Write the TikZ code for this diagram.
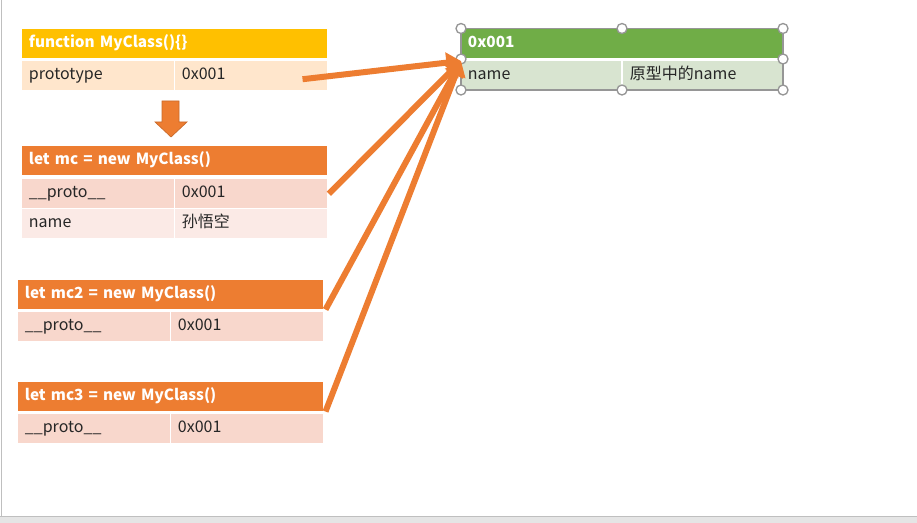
\documentclass[tikz,border=0pt]{standalone}
\usepackage{fontspec}
\setmainfont{Noto Sans CJK SC}
\usetikzlibrary{arrows.meta, positioning, calc}
\definecolor{headgold}{RGB}{255,192,0}
\definecolor{headorange}{RGB}{237,125,49}
\definecolor{headgreen}{RGB}{112,173,71}
\definecolor{rowpeach}{RGB}{255,230,204}
\definecolor{rowsalmon}{RGB}{248,215,204}
\definecolor{rowblush}{RGB}{251,234,230}
\definecolor{rowsage}{RGB}{216,228,208}
\definecolor{handlegray}{RGB}{150,150,150}

\begin{document}
\begin{tikzpicture}[
  x=0.75pt, y=-0.75pt,
  headcell/.style={anchor=north west, inner xsep=5pt, inner ysep=0pt, minimum height=21.75pt, text height=8.6pt, text depth=2.6pt, text width=#1, align=left, text=white, font=\fontsize{11.5}{13}\selectfont\bfseries},
  rowcell/.style={anchor=north west, inner xsep=5pt, inner ysep=0pt, minimum height=21.75pt, text height=8.6pt, text depth=2.6pt, text width=#1, align=left, text=black!85, font=\fontsize{12}{14}\selectfont},
  handle/.style={circle, draw=handlegray, fill=white, line width=1pt, inner sep=0pt, minimum size=7.5pt},
  pointer/.style={draw=headorange, line width=4.5pt, -{Triangle[length=11pt, width=15pt]}}
]
  \useasboundingbox (0,0) rectangle (917,523);
  \fill[white] (0,0) rectangle (917,523);
  \fill[black!10] (0,516) rectangle (917,523);
  \draw[black!25] (0,516) -- (917,516);
  \draw[black!25] (1,0) -- (1,516);

  % constructor
  \node[headcell=218.75pt, fill=headgold] (fnhead) at (22,29) {function MyClass()\{\}};
  \node[rowcell=104pt, fill=rowpeach] (fnkey) at (22,61) {prototype};
  \node[rowcell=104pt, fill=rowpeach] (fnaddr) at (175,61) {0x001};

  \filldraw[fill=headorange, draw=headorange!85!black, line width=0.5pt]
    (162,101) -- (179,101) -- (179,122) -- (187,122) -- (171,137) -- (155,122) -- (162,122) -- cycle;

  % instance mc
  \node[headcell=218.75pt, fill=headorange] (mchead) at (22,146) {let mc = new MyClass()};
  \node[rowcell=104pt, fill=rowsalmon] (mckey) at (22,179) {\_\_proto\_\_};
  \node[rowcell=104pt, fill=rowsalmon] (mcaddr) at (175,179) {0x001};
  \node[rowcell=104pt, fill=rowblush] (mcname) at (22,209) {name};
  \node[rowcell=104pt, fill=rowblush] (mcval) at (175,209) {孙悟空};

  % instance mc2
  \node[headcell=218.75pt, fill=headorange] (mctwohead) at (18,280) {let mc2 = new MyClass()};
  \node[rowcell=104pt, fill=rowsalmon] (mctwokey) at (18,312) {\_\_proto\_\_};
  \node[rowcell=104pt, fill=rowsalmon] (mctwoaddr) at (171,312) {0x001};

  % instance mc3
  \node[headcell=218.75pt, fill=headorange] (mcthreehead) at (18,382) {let mc3 = new MyClass()};
  \node[rowcell=104pt, fill=rowsalmon] (mcthreekey) at (18,414) {\_\_proto\_\_};
  \node[rowcell=104pt, fill=rowsalmon] (mcthreeaddr) at (171,414) {0x001};

  % prototype object
  \node[headcell=231.5pt, fill=headgreen] (ghead) at (461,29) {0x001};
  \node[rowcell=110pt, fill=rowsage] (gname) at (461,61) {name};
  \node[rowcell=110pt, fill=rowsage] (gval) at (623,61) {原型中的name};

  \draw[handlegray, line width=0.8pt] (461,28.5) rectangle (783,90);
  \foreach \hx/\hy in {461/28.5, 622/28.5, 783/28.5, 461/59, 783/59, 461/90, 622/90, 783/90}
    \node[handle] at (\hx,\hy) {};

  \draw[pointer] ([xshift=-18.75pt, yshift=-2.6pt]fnaddr.east) -- (gname.north west);
  \draw[pointer] ([xshift=1pt]mcaddr.east) -- (gname.north west);
  \draw[pointer] ([xshift=1.5pt]mctwohead.south east) -- (gname.north west);
  \draw[pointer] ([xshift=1.5pt]mcthreehead.south east) -- (gname.north west);
\end{tikzpicture}
\end{document}
